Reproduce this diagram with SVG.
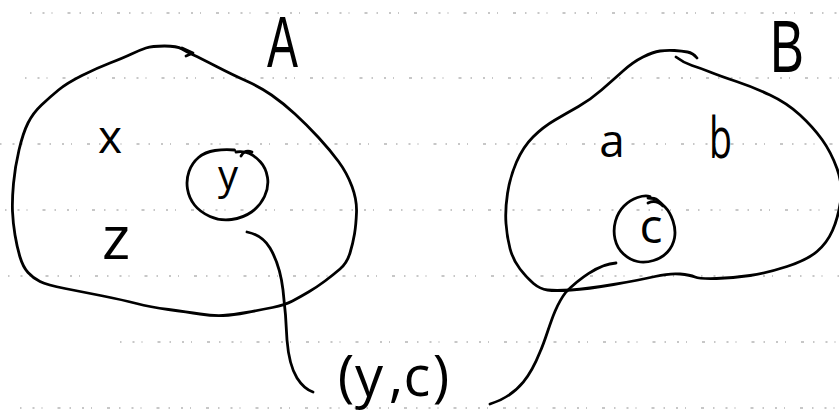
<svg xmlns="http://www.w3.org/2000/svg" width="839" height="420" viewBox="0 0 839 420">
<style>
.rule{stroke:#8f8f8f;stroke-width:1.2;fill:none;stroke-dasharray:1.5 11 2 7 1 15 3 9}
.ink{stroke:#000;stroke-width:2.8;fill:none;stroke-linecap:round;stroke-linejoin:round}
.lbl{font-family:"Open Sans","Liberation Sans",sans-serif;font-weight:400;fill:#000}
.cap{font-family:"Liberation Sans",Arial,sans-serif;font-weight:400;fill:#000}
</style>
<rect width="839" height="420" fill="#fff"/>
<g id="ruling">
<line class="rule" x1="30" y1="13" x2="839" y2="13"/>
<line class="rule" x1="25" y1="78" x2="839" y2="78"/>
<line class="rule" x1="0" y1="144" x2="839" y2="144"/>
<line class="rule" x1="5" y1="210" x2="839" y2="210"/>
<line class="rule" x1="8" y1="276" x2="839" y2="276"/>
<line class="rule" x1="120" y1="342" x2="839" y2="342"/>
<line class="rule" x1="20" y1="408" x2="839" y2="408"/>
</g>
<g id="setA">
<path class="ink" d="M164.5,46 Q177,46 182,49 Q187,52 193.5,55 Q200,58 216.5,66.5 Q233,75 246.5,81 Q260,87 271.5,95 Q283,103 295,114 Q307,125 318.5,137.5 Q330,150 338.5,161.5 Q347,173 352,186.5 Q357,200 356.5,212.5 Q356,225 354.5,234 Q353,243 350,253 Q347,263 340,269 Q333,275 325,281 Q317,287 308.5,292 Q300,297 292.5,301 Q285,305 272.5,307.5 Q260,310 246.5,312.5 Q233,315 223,315.5 Q213,316 200,314 Q187,312 168.5,309.5 Q150,307 136.5,303.5 Q123,300 103,296 Q83,292 65,288.5 Q47,285 40,281.5 Q33,278 28,272.5 Q23,267 20,257 Q17,247 15,235 Q13,223 12.5,211.5 Q12,200 13.5,183.5 Q15,167 19,150 Q23,133 28,123 Q33,113 41.5,105 Q50,97 58.5,90 Q67,83 82,75.5 Q97,68 110,63 Q123,58 131.5,54 Q140,50 146,48 Q152,46 164.5,46 Z"/>
<path class="ink" d="M182,48 L193,53 L186,56"/>
<text class="cap" x="267" y="67" font-size="72" textLength="31" lengthAdjust="spacingAndGlyphs">A</text>
<text class="lbl" x="110" y="153" font-size="46" text-anchor="middle">x</text>
<text class="lbl" x="116" y="259" font-size="60" text-anchor="middle">z</text>
</g>
<g id="elemY">
<path class="ink" d="M234.5,150 Q225,149 215,150.5 Q205,152 198.5,157.5 Q192,163 189,171.5 Q186,180 187.5,189 Q189,198 194.5,205 Q200,212 210,216.5 Q220,221 231.5,219.5 Q243,218 251.5,212 Q260,206 264.5,196.5 Q269,187 267.5,177.5 Q266,168 260.5,162 Q255,156 249.5,153.5 Q244,151 236,152"/>
<path class="ink" d="M241,156 Q245,149 252,152"/>
<text class="lbl" x="228" y="189" font-size="40" text-anchor="middle">y</text>
</g>
<g id="setB">
<path class="ink" d="M676,57 Q684,63 692,65.5 Q700,68 710,72 Q720,76 736.5,81.5 Q753,87 770,95 Q787,103 800,115 Q813,127 822,139.5 Q831,152 837,168.5 Q843,185 840.5,201.5 Q838,218 832.5,230.5 Q827,243 817,251.5 Q807,260 787,266.5 Q767,273 750,275.5 Q733,278 716.5,278.5 Q700,279 695,277 Q690,275 680,274 Q670,273 655,276.5 Q640,280 613.5,284.5 Q587,289 571,290 Q555,291 547.5,290 Q540,289 533.5,283.5 Q527,278 520,269 Q513,260 510,248.5 Q507,237 506,223.5 Q505,210 507.5,193.5 Q510,177 516.5,162 Q523,147 533,137 Q543,127 555,120 Q567,113 578.5,106.5 Q590,100 601.5,90 Q613,80 623,71 Q633,62 643,57 Q653,52 660,51 Q667,50 674.5,50.5 Q682,51 687.5,52 Q693,53 697,58"/>
<text class="cap" x="770" y="72" font-size="74" textLength="34" lengthAdjust="spacingAndGlyphs">B</text>
<text class="lbl" x="612" y="157" font-size="46" text-anchor="middle">a</text>
<text class="lbl" x="709" y="158" font-size="56" textLength="23" lengthAdjust="spacingAndGlyphs">b</text>
</g>
<g id="elemC">
<path class="ink" d="M650,196.5 Q645,195 637.5,197.5 Q630,200 624,206 Q618,212 615.5,221 Q613,230 615,239 Q617,248 623.5,254 Q630,260 637.5,261.5 Q645,263 653.5,260.5 Q662,258 667.5,252 Q673,246 674.5,238 Q676,230 673,221 Q670,212 665,207 Q660,202 657.5,200 Q655,198 648,198"/>
<path class="ink" d="M648,203 Q656,199 663,206"/>
<text class="lbl" x="651" y="243" font-size="48" text-anchor="middle">c</text>
</g>
<g id="pair">
<text class="lbl" font-size="56" text-anchor="middle" x="346 369 396 417 441" y="396">(y,c)</text>
</g>
<g id="connectors">
<path class="ink" d="M247,232 Q262,235 270,248 Q280,265 283,290 Q286,315 287,340 Q289,365 297,378 Q304,389 313,392"/>
<path class="ink" d="M616,263 C598,264 578,280 566,292 C552,310 548,335 540,352 C532,372 520,395 490,404"/>
</g>
</svg>
